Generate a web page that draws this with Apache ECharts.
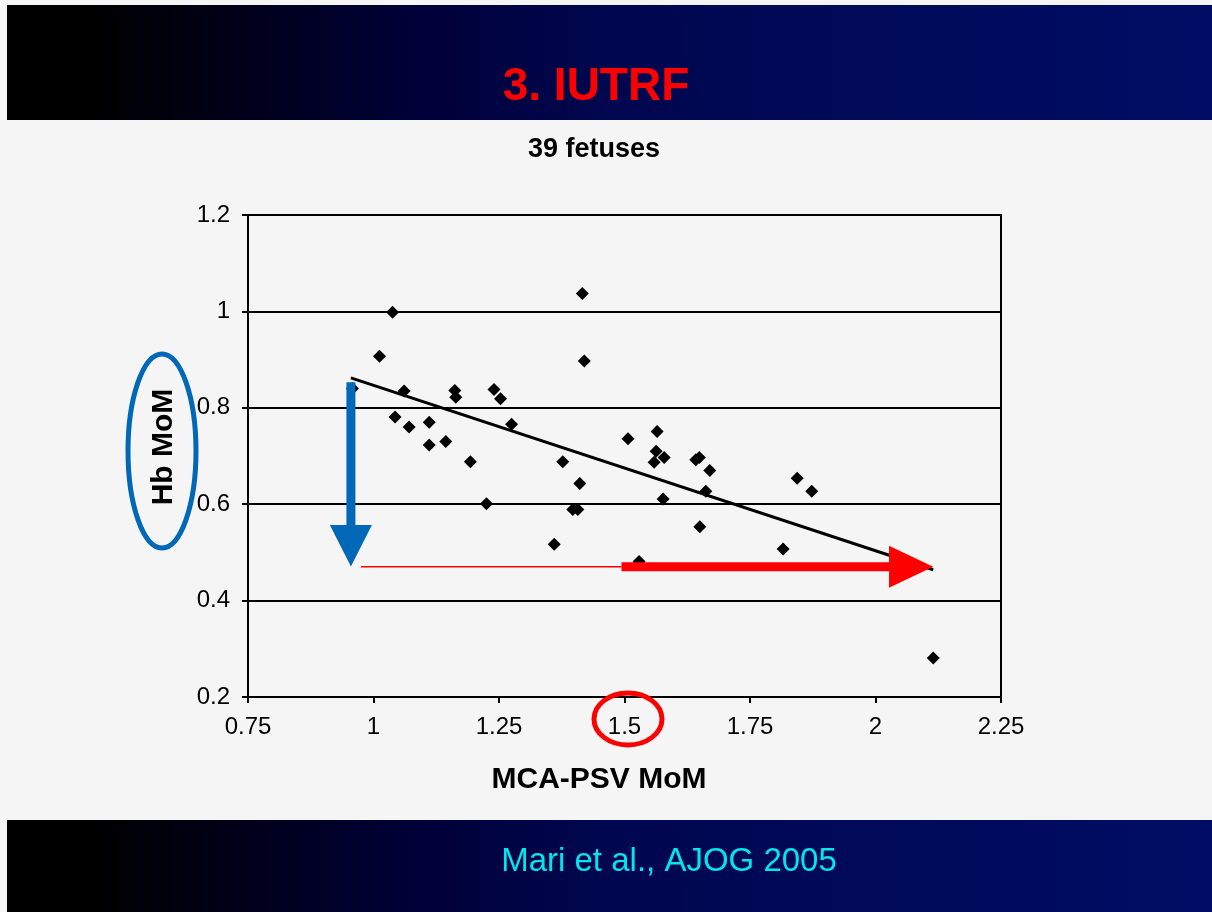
<!DOCTYPE html>
<html>
<head>
<meta charset="utf-8" />
<title>3. IUTRF</title>
<script src="https://cdn.jsdelivr.net/npm/echarts@6/dist/echarts.min.js"></script>
<style>
html, body { margin: 0; padding: 0; background: #f5f5f5; }
#main { width: 1212px; height: 912px; }
</style>
</head>
<body>
<div id="main"></div>
<script>
// 39 fetuses
var mcaPsv = [1.038, 1.012, 1.416, 1.420, 0.958, 1.061, 1.162, 1.164, 1.240, 1.253,
	1.043, 1.071, 1.111, 1.111, 1.144, 1.275, 1.193, 1.377, 1.411, 1.225,
	1.397, 1.407, 1.507, 1.565, 1.563, 1.579, 1.559, 1.642, 1.649, 1.670,
	1.844, 1.873, 1.662, 1.577, 1.360, 1.650, 1.816, 1.529, 2.115];
var hbMom = [0.998, 0.907, 1.037, 0.897, 0.840, 0.835, 0.836, 0.822, 0.838, 0.819,
	0.781, 0.760, 0.770, 0.723, 0.730, 0.766, 0.688, 0.688, 0.643, 0.601,
	0.589, 0.589, 0.736, 0.751, 0.710, 0.697, 0.687, 0.692, 0.697, 0.670,
	0.654, 0.627, 0.627, 0.611, 0.517, 0.553, 0.507, 0.481, 0.281];

// regression line end points
var trendX = [0.955, 2.115];
var trendY = [0.862, 0.464];

// annotation arrows, in data units
var blueArrowX = 0.955;
var blueArrowY = [0.853, 0.557, 0.471];       // top, head base, tip
var redArrowY = 0.47;
var redArrowX = [0.975, 1.494, 2.027, 2.115]; // thin start, thick start, head base, tip

var FONT = '"Liberation Sans", Arial, sans-serif';
var BLUE = '#0068b7';
var RED = '#ff0000';

var points = mcaPsv.map(function (x, i) { return [x, hbMom[i]]; });
var trend = trendX.map(function (x, i) { return [x, trendY[i]]; });

var chart = echarts.init(document.getElementById('main'));
var option = {
	animation: false,
	backgroundColor: '#f5f5f5',
	grid: {
		left: 248, right: 211, top: 215, bottom: 215,
		show: true, borderColor: '#000', borderWidth: 2, backgroundColor: 'transparent'
	},
	xAxis: {
		type: 'value', min: 0.75, max: 2.25, interval: 0.25,
		axisLine: { onZero: false, lineStyle: { color: '#000', width: 2 } },
		axisTick: { show: true, length: 6, lineStyle: { color: '#000', width: 2 } },
		axisLabel: { margin: 18, fontSize: 24, color: '#000', fontFamily: FONT },
		splitLine: { show: false }
	},
	yAxis: {
		type: 'value', min: 0.2, max: 1.2, interval: 0.2,
		axisLine: { show: true, lineStyle: { color: '#000', width: 2 } },
		axisTick: { show: true, length: 6, lineStyle: { color: '#000', width: 2 } },
		axisLabel: { margin: 18, fontSize: 24, color: '#000', fontFamily: FONT },
		splitLine: { show: true, lineStyle: { color: '#000', width: 2 } }
	},
	series: [{
		type: 'line',
		data: trend,
		symbol: 'none',
		lineStyle: { color: '#000', width: 3 },
		z: 2
	}, {
		type: 'scatter',
		data: points,
		symbol: 'diamond',
		symbolSize: 13,
		itemStyle: { color: '#000', opacity: 1 },
		z: 3
	}]
};
chart.setOption(option);

function px(x, y) {
	return chart.convertToPixel({ gridIndex: 0 }, [x, y]);
}

var bandFill = {
	type: 'linear', x: 0, y: 0, x2: 1, y2: 0,
	colorStops: [
		{ offset: 0, color: '#000000' },
		{ offset: 0.07, color: '#000000' },
		{ offset: 0.33, color: '#000036' },
		{ offset: 0.5, color: '#00074f' },
		{ offset: 0.75, color: '#000a5a' },
		{ offset: 1, color: '#000d64' }
	]
};

// blue down arrow
var bTop = px(blueArrowX, blueArrowY[0]);
var bBase = px(blueArrowX, blueArrowY[1]);
var bTip = px(blueArrowX, blueArrowY[2]);
var sw = 4.5, hw = 21;
var bluePts = [
	[bTop[0] - sw, bTop[1]], [bTop[0] + sw, bTop[1]],
	[bBase[0] + sw, bBase[1]], [bBase[0] + hw, bBase[1]],
	[bTip[0], bTip[1]],
	[bBase[0] - hw, bBase[1]], [bBase[0] - sw, bBase[1]]
];

// red right arrow
var rThin = px(redArrowX[0], redArrowY);
var rStart = px(redArrowX[1], redArrowY);
var rBase = px(redArrowX[2], redArrowY);
var rTip = px(redArrowX[3], redArrowY);
var redPts = [
	[rStart[0], rStart[1] - sw], [rBase[0], rBase[1] - sw],
	[rBase[0], rBase[1] - hw], [rTip[0], rTip[1]],
	[rBase[0], rBase[1] + hw], [rBase[0], rBase[1] + sw],
	[rStart[0], rStart[1] + sw]
];

chart.setOption({
	graphic: [
		{ type: 'rect', z: -1, shape: { x: 7, y: 5, width: 1205, height: 115 }, style: { fill: bandFill } },
		{ type: 'rect', z: -1, shape: { x: 7, y: 820, width: 1205, height: 92 }, style: { fill: bandFill } },
		{
			type: 'text', x: 596, y: 87,
			style: { text: '3. IUTRF', fill: RED, font: 'bold 46px ' + FONT, align: 'center', verticalAlign: 'middle' }
		},
		{
			type: 'text', x: 594, y: 150,
			style: { text: '39 fetuses', fill: '#000', font: 'bold 27px ' + FONT, align: 'center', verticalAlign: 'middle' }
		},
		{
			type: 'text', x: 599, y: 780,
			style: { text: 'MCA-PSV MoM', fill: '#000', font: 'bold 30px ' + FONT, align: 'center', verticalAlign: 'middle' }
		},
		{
			type: 'text', x: 164, y: 447, rotation: Math.PI / 2,
			style: { text: 'Hb MoM', fill: '#000', font: 'bold 30px ' + FONT, align: 'center', verticalAlign: 'middle' }
		},
		{
			type: 'text', x: 669, y: 862,
			style: { text: 'Mari et al., AJOG 2005', fill: '#00e5ee', font: '33px ' + FONT, align: 'center', verticalAlign: 'middle' }
		},
		{
			type: 'ellipse', z: 100, shape: { cx: 162, cy: 451, rx: 34, ry: 97 },
			style: { fill: 'none', stroke: BLUE, lineWidth: 5 }
		},
		{
			type: 'ellipse', z: 100, shape: { cx: 628, cy: 719, rx: 34, ry: 26 },
			style: { fill: 'none', stroke: RED, lineWidth: 5 }
		},
		{ type: 'polygon', z: 100, shape: { points: bluePts }, style: { fill: BLUE } },
		{
			type: 'line', z: 100,
			shape: { x1: rThin[0], y1: rThin[1], x2: rStart[0], y2: rStart[1] },
			style: { stroke: RED, lineWidth: 1.5 }
		},
		{ type: 'polygon', z: 100, shape: { points: redPts }, style: { fill: RED } }
	]
});
</script>
</body>
</html>
